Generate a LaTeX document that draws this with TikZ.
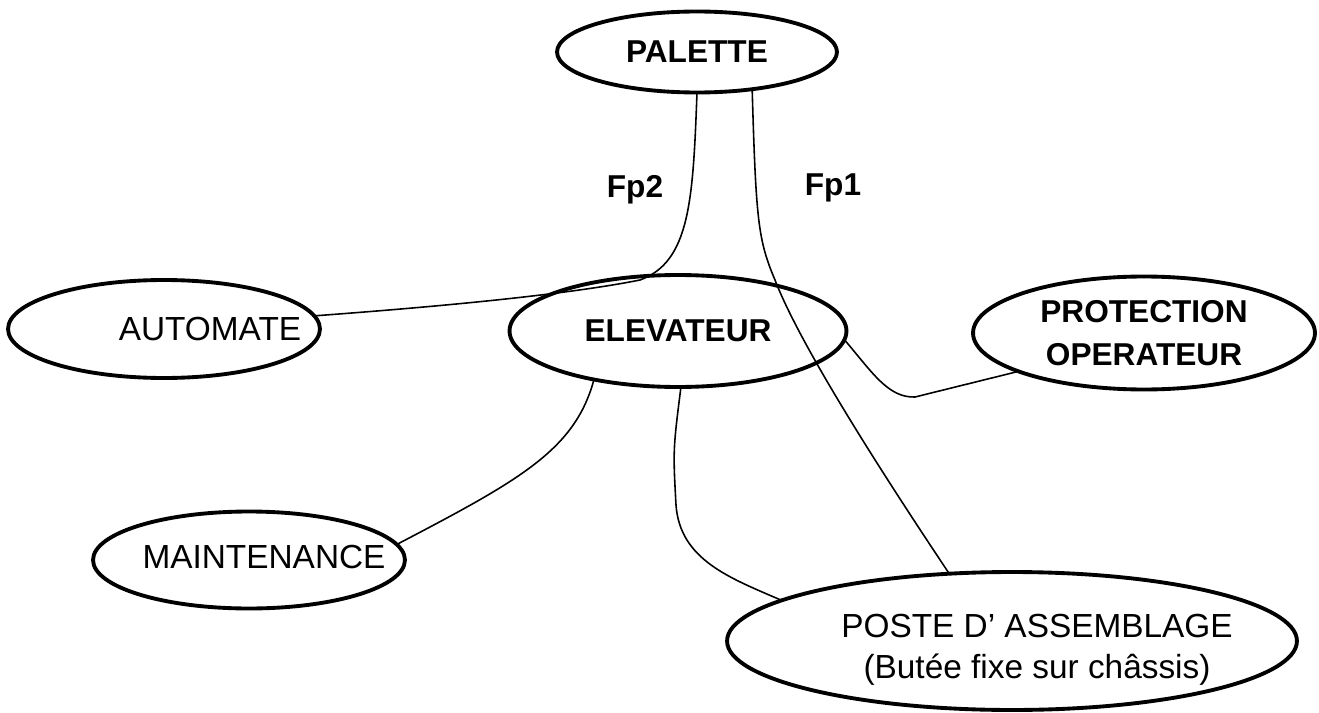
\documentclass[tikz,border=0pt]{standalone}
\usepackage{fontspec}
\setmainfont{Liberation Sans}
\usetikzlibrary{shapes.geometric}

\tikzset{
	bubble/.style={ellipse, draw, line width=2.2pt, inner sep=0pt, outer sep=0pt},
	txt/.style={font=\fontsize{19}{23}\selectfont, align=center},
	btxt/.style={font=\fontsize{18}{24.5}\selectfont\bfseries, align=center},
	link/.style={line width=0.9pt}
}

\begin{document}
\begin{tikzpicture}[
		x={(0.02cm,0cm)}, y={(0cm,-0.02cm)} % pixel-like units, y downwards
		]
		\useasboundingbox (0,0) rectangle (1319,713);
		
		% --- 1. Bubbles ---
		\node[bubble, btxt, minimum width=5.6cm, minimum height=1.62cm] (palette) at (697,52) {PALETTE};
		\node[bubble, btxt, minimum width=6.74cm, minimum height=2.24cm] (elevateur) at (678,331) {ELEVATEUR};
		\node[bubble, minimum width=6.24cm, minimum height=1.96cm,
			label={[txt, xshift=0.92cm]center:AUTOMATE}] (automate) at (164,329) {};
		\node[bubble, btxt, minimum width=6.84cm, minimum height=2.26cm] (protect) at (1144,333) {PROTECTION\\OPERATEUR};
		\node[bubble, minimum width=6.24cm, minimum height=1.94cm,
			label={[txt, xshift=0.3cm, yshift=0.06cm]center:MAINTENANCE}] (maint) at (249,560) {};
		\node[bubble, minimum width=11.4cm, minimum height=2.76cm,
			label={[txt, xshift=0.5cm, yshift=-0.18cm]center:POSTE D' ASSEMBLAGE\\(Butée fixe sur châssis)}] (poste) at (1012,641) {};
		
		% --- 2. Function labels ---
		\node[btxt] (fp2) at (635,190) {Fp2};
		\node[btxt] (fp1) at (833,188) {Fp1};
		
		% --- 3. Links ---
		% Fp2 : palette - automate
		\draw[link] (palette.south) .. controls (693,200) and (690,262) .. (640,280)
			.. controls (560,296) and (420,308) .. (automate.5);
		% Fp1 : palette - poste
		\draw[link] (palette.-34) .. controls (756,220) and (758,240) .. (775,280)
			.. controls (800,345) and (880,470) .. (poste.133);
		
		\draw[link] (elevateur.-3) .. controls (872,372) and (888,398) .. (915,397) -- (protect.197);
		\draw[link] (elevateur.-150) .. controls (575,450) and (520,480) .. (maint.6);
		\draw[link] (elevateur.-87) .. controls (673,450) .. (676,505)
			.. controls (680,560) and (730,578) .. (poste.170);
		
	\end{tikzpicture}
\end{document}
